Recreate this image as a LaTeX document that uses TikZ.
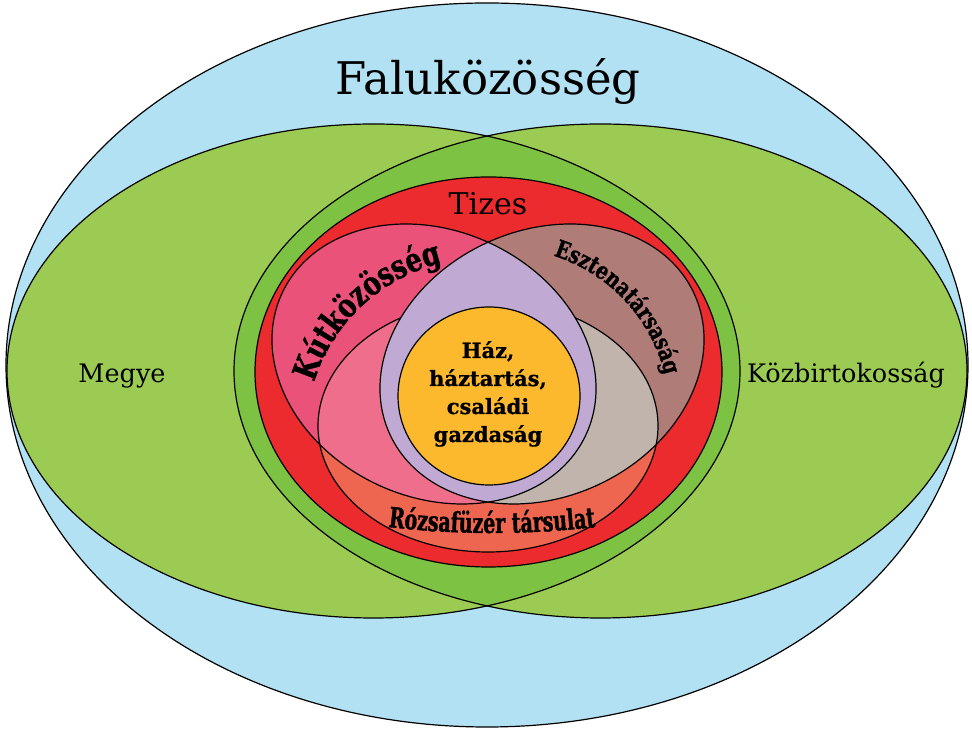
\documentclass[tikz,border=0pt]{standalone}
\usepackage{fontspec}
\setmainfont{DejaVu Serif}
\newfontfamily\heavycond[FakeStretch=0.78, FakeBold=1.2]{DejaVu Serif}
\newfontfamily\heavynarrow[FakeStretch=0.68, FakeBold=1.2]{DejaVu Serif}
\newfontfamily\heavyctr[FakeBold=0.8]{DejaVu Serif}
\usetikzlibrary{decorations.text}
\definecolor{skyb}{HTML}{B2E1F3}
\definecolor{grn}{HTML}{9CCB54}
\definecolor{lensg}{HTML}{7DC242}
\definecolor{tizred}{HTML}{EC2B2F}
\definecolor{rosec}{HTML}{EE6650}
\definecolor{pinkc}{HTML}{EA527A}
\definecolor{pinkrose}{HTML}{EE6E8C}
\definecolor{brownc}{HTML}{B07C78}
\definecolor{greyrose}{HTML}{C0B4AC}
\definecolor{lavc}{HTML}{C0AAD4}
\definecolor{orng}{HTML}{FDB92D}
\newcommand\OuterE{(487,365) ellipse [x radius=481pt, y radius=362pt]}
\newcommand\GreenL{(373.5,359) ellipse [x radius=366.5pt, y radius=247pt]}
\newcommand\GreenR{(600.5,359) ellipse [x radius=366.5pt, y radius=247pt]}
\newcommand\TizesE{(488.5,358) ellipse [x radius=233.5pt, y radius=195pt]}
\newcommand\RoseE{(488,304) ellipse [x radius=170pt, y radius=126pt]}
\newcommand\PinkE{(434,366) ellipse [x radius=167.6pt, y radius=133.2pt]}
\newcommand\BrownE{(542,366) ellipse [x radius=167.6pt, y radius=133.2pt]}
\newcommand\HazE{(489,334) ellipse [x radius=91pt, y radius=89pt]}
\tikzset{
  outl/.style={draw=black, line width=1.2pt},
  pinkT/.style={rotate around={-25:(434,366)}},
  brownT/.style={rotate around={25:(542,366)}},
  lbl/.style={anchor=base, inner sep=0pt},
  ctr/.style={anchor=base, inner sep=0pt, font=\heavyctr\bfseries\fontsize{21}{21}\selectfont},
}
\begin{document}
\begin{tikzpicture}[x=1pt,y=1pt]
\useasboundingbox (0,0) rectangle (972,730);
% outer community
\fill[skyb] \OuterE;
% county / commons
\fill[grn] \GreenL;
\fill[grn] \GreenR;
\begin{scope}
  \clip \GreenL;
  \fill[lensg] \GreenR;
\end{scope}
\draw[outl] \OuterE;
\draw[outl] \GreenL;
\draw[outl] \GreenR;
% Tizes
\filldraw[fill=tizred, outl] \TizesE;
% rose, well, sheepfold
\fill[rosec] \RoseE;
\fill[pinkc, pinkT] \PinkE;
\fill[brownc, brownT] \BrownE;
\begin{scope}
  \clip[pinkT] \PinkE;
  \fill[pinkrose] \RoseE;
\end{scope}
\begin{scope}
  \clip[brownT] \BrownE;
  \fill[greyrose] \RoseE;
\end{scope}
\draw[outl] \RoseE;
\begin{scope}
  \clip[pinkT] \PinkE;
  \fill[lavc, brownT] \BrownE;
\end{scope}
\draw[outl, pinkT] \PinkE;
\draw[outl, brownT] \BrownE;
% house
\filldraw[fill=orng, outl] \HazE;

% labels
\node[lbl, font=\fontsize{45}{45}\selectfont] (falu) at (488,635) {Faluközösség};
\node[lbl, font=\fontsize{30}{30}\selectfont] (tizes) at (488,515) {Tizes};
\node[lbl, font=\fontsize{25.5}{25.5}\selectfont] (megye) at (122,347) {Megye};
\node[lbl, font=\fontsize{25.5}{25.5}\selectfont] (kozb) at (846,347) {Közbirtokosság};

\node[ctr] (h1) at (488,372) {Ház,};
\node[ctr] (h2) at (488,344) {háztartás,};
\node[ctr] (h3) at (488,316) {családi};
\node[ctr] (h4) at (488,288) {gazdaság};

\path[decorate, decoration={text along path, text align=center,
  text={|\heavycond\bfseries\fontsize{33}{33}\selectfont|Kútközösség}}]
  (483,295) ++(170:177pt) arc[start angle=170, end angle=96, radius=177pt];
\path[decorate, decoration={text along path, text align=center,
  text={|\heavycond\bfseries\fontsize{24}{24}\selectfont|Esztenatársaság}}]
  (503.5,316) ++(84:166pt) arc[start angle=84, end angle=2, radius=166pt];
\path[decorate, decoration={text along path, text align=center,
  text={|\heavynarrow\bfseries\fontsize{28}{28}\selectfont|Rózsafüzér társulat}}]
  (492,1097) ++(262:900pt) arc[start angle=262, end angle=278, radius=900pt];
\end{tikzpicture}
\end{document}
